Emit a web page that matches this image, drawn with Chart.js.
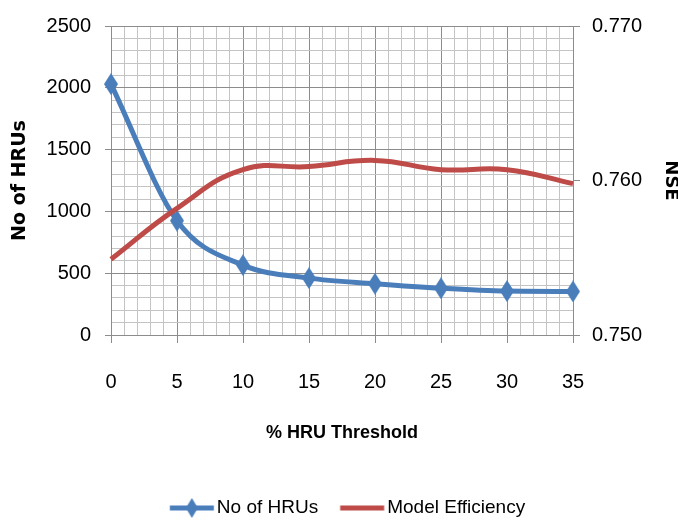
<!DOCTYPE html>
<html>
<head>
<meta charset="utf-8">
<script src="https://cdn.jsdelivr.net/npm/chart.js@4.4.0/dist/chart.umd.min.js"></script>
<style>
  body { margin: 0; background: #fff; }
  #wrap { width: 678px; height: 520px; }
</style>
</head>
<body>
<div id="wrap"><canvas id="grafico" width="678" height="520"></canvas></div>
<script>
// % HRU threshold vs number of HRUs (left axis) and model efficiency NSE (right axis)
const thresholds = [0, 5, 10, 15, 20, 25, 30, 35];
const hruCounts = [2030, 925, 565, 460, 415, 378, 355, 352];
const nseValues = [0.7549, 0.7582, 0.7607, 0.7609, 0.7613, 0.7607, 0.7607, 0.7598];
const xTicks = [0, 5, 10, 15, 20, 25, 30, 35];
const leftTicks = [0, 500, 1000, 1500, 2000, 2500];
const rightTicks = [0.750, 0.760, 0.770];

const azul = '#4a7ebb';
const vermelho = '#be4b48';
const gradeForte = '#8c8c8c';
const gradeFraca = '#c4c4c4';
const fonte = "'Liberation Sans', Arial, sans-serif";
const fonteTitulo = "'DejaVu Sans', sans-serif";
const invisivel = 'rgba(0,0,0,0)';

// losango mais alto que largo
function losango(w, h, cor) {
  const c = document.createElement('canvas');
  c.width = w; c.height = h;
  const g = c.getContext('2d');
  g.fillStyle = cor;
  g.beginPath();
  g.moveTo(w / 2, 0); g.lineTo(w, h / 2); g.lineTo(w / 2, h); g.lineTo(0, h / 2);
  g.closePath();
  g.fill();
  return c;
}

// icone da legenda: linha curta (com losango na serie de HRUs)
function iconeLegenda(cor, comLosango) {
  const c = document.createElement('canvas');
  c.width = 80; c.height = 22;
  const g = c.getContext('2d');
  const x0 = 29.75;
  g.strokeStyle = cor;
  g.lineWidth = 5;
  g.beginPath(); g.moveTo(x0, 11); g.lineTo(x0 + 44, 11); g.stroke();
  if (comLosango) g.drawImage(losango(12, 20, cor), x0 + 16, 1);
  return c;
}

const pontosHRU = thresholds.map((t, i) => ({ x: t, y: hruCounts[i] }));
const pontosNSE = thresholds.map((t, i) => ({ x: t, y: nseValues[i] }));

const ctx = document.getElementById('grafico').getContext('2d');
const grafico = new Chart(ctx, {
  type: 'line',
  data: {
    datasets: [{
      label: 'No of HRUs',
      data: pontosHRU,
      yAxisID: 'y',
      borderColor: azul,
      backgroundColor: azul,
      borderWidth: 5,
      pointStyle: losango(14, 22, azul),
      pointRadius: 7,
      cubicInterpolationMode: 'monotone',
      clip: false,
      order: 1
    }, {
      label: 'Model Efficiency',
      data: pontosNSE,
      yAxisID: 'y1',
      borderColor: vermelho,
      backgroundColor: vermelho,
      borderWidth: 5,
      pointRadius: 0,
      tension: 0.45,
      clip: false,
      order: 0
    }]
  },
  options: {
    responsive: false,
    animation: false,
    layout: { padding: { top: 22, left: 0, right: 0, bottom: -7.5 } },
    plugins: {
      tooltip: { enabled: false },
      legend: {
        position: 'bottom',
        labels: {
          usePointStyle: true,
          pointStyleWidth: 54.5,
          padding: 5,
          color: '#000',
          font: { family: fonte, size: 19 },
          sort: (a, b) => a.datasetIndex - b.datasetIndex,
          generateLabels(chart) {
            const itens = Chart.defaults.plugins.legend.labels.generateLabels(chart);
            itens.forEach(it => {
              it.pointStyle = it.datasetIndex === 0 ? iconeLegenda(azul, true) : iconeLegenda(vermelho, false);
            });
            return itens;
          }
        }
      }
    },
    scales: {
      x: {
        type: 'linear',
        min: 0,
        max: 35,
        ticks: {
          stepSize: 1,
          autoSkip: false,
          maxRotation: 0,
          padding: 27,
          color: '#000',
          font: { family: fonte, size: 20 },
          callback: v => xTicks.includes(v) ? String(v) : ''
        },
        grid: {
          color: c => c.tick.value % 5 === 0 ? gradeForte : gradeFraca,
          tickColor: c => c.tick.value % 5 === 0 ? gradeForte : invisivel,
          tickLength: 8
        },
        border: { color: gradeForte },
        title: {
          display: true,
          text: '% HRU Threshold',
          color: '#000',
          font: { family: fonte, size: 18, weight: 'bold' },
          padding: { top: 0, bottom: 50 }
        },
        afterFit(s) { s.height = 158.5; }
      },
      y: {
        position: 'left',
        min: 0,
        max: 2500,
        ticks: {
          stepSize: 100,
          autoSkip: false,
          padding: 14,
          color: '#000',
          font: { family: fonte, size: 20 },
          callback: v => leftTicks.includes(v) ? String(v) : ''
        },
        grid: {
          color: c => c.tick.value % 500 === 0 ? gradeForte : gradeFraca,
          tickColor: c => c.tick.value % 500 === 0 ? gradeForte : invisivel,
          tickLength: 6
        },
        border: { color: gradeForte },
        title: {
          display: true,
          text: 'No of HRUs',
          color: '#000',
          font: { family: fonteTitulo, size: 19, weight: 'bold' },
          padding: { top: 9, bottom: 0 }
        },
        afterFit(s) { s.width = 111; }
      },
      y1: {
        position: 'right',
        min: 0.75,
        max: 0.77,
        ticks: {
          stepSize: 0.01,
          padding: 12,
          color: '#000',
          font: { family: fonte, size: 20 },
          callback: v => rightTicks.some(r => Math.abs(r - v) < 1e-6) ? v.toFixed(3) : ''
        },
        grid: { drawOnChartArea: false, color: gradeForte, tickLength: 7 },
        border: { color: gradeForte },
        title: {
          display: true,
          text: 'NSE',
          color: '#000',
          font: { family: fonteTitulo, size: 18, weight: 'bold', lineHeight: 1 },
          padding: { top: -2, bottom: 0 }
        },
        afterFit(s) { s.width = 105; }
      }
    }
  }
});
</script>
</body>
</html>
